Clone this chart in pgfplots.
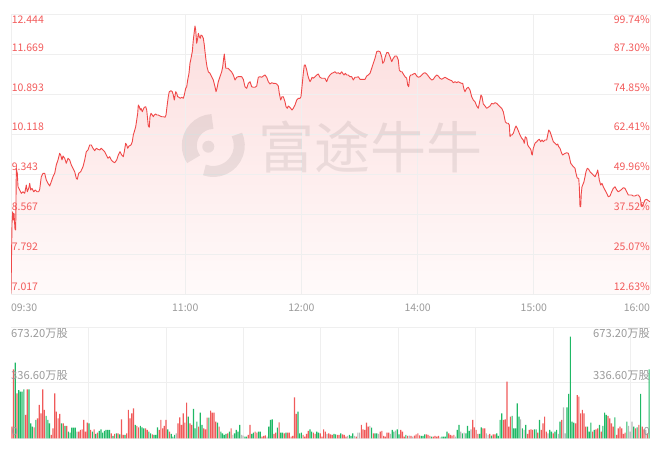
\documentclass[border=0pt]{standalone}
\usepackage{pgfplots}
\pgfplotsset{compat=1.18}
\usepackage{pgfplotstable}
\usepackage{fontspec}
\setmainfont{Noto Sans CJK SC}
\newfontfamily\cjk{Noto Sans CJK SC}
\definecolor{pline}{HTML}{F04848}
\definecolor{plab}{HTML}{F25A5A}
\definecolor{gridc}{HTML}{EFEFEF}
\definecolor{vred}{HTML}{F05A5A}
\definecolor{vgreen}{HTML}{1FB865}
\definecolor{vgray}{HTML}{B8B8B8}
\definecolor{tlab}{HTML}{9A9A9A}
\definecolor{fillTop}{RGB}{252,222,222}
\definecolor{fillBot}{RGB}{255,250,250}

\pgfplotstableread{
m p
0 7.03
0.52 8.395
0.88 8.620
1.19 8.459
1.55 8.589
2.07 8.278
2.43 8.265
2.74 9.463
3.25 9.365
3.62 9.105
4.49 9.041
5.32 8.977
6.20 9.008
7.08 8.977
7.90 9.138
8.42 9.008
9.14 9.074
9.66 9.171
10.17 9.041
10.85 9.074
11.72 9.008
12.55 9.041
13.43 9.008
14.31 9.008
14.82 9.055
15.65 9.299
16.53 9.365
17.40 9.365
18.23 9.235
19.11 9.171
19.99 9.119
20.81 9.203
21.69 9.299
22.57 9.365
23.39 9.527
24.27 9.624
25.15 9.754
25.67 9.721
26.34 9.624
26.85 9.702
27.73 9.657
28.56 9.560
29.44 9.657
30.31 9.624
31.14 9.527
32.02 9.463
32.90 9.397
33.72 9.269
34.24 9.249
34.96 9.365
36.00 9.397
37.18 9.494
38.06 9.624
38.89 9.785
39.77 9.818
40.64 9.915
41.47 9.915
42.35 9.851
43.23 9.804
44.05 9.851
44.93 9.831
45.81 9.818
46.63 9.851
47.51 9.818
48.39 9.785
49.22 9.721
50.09 9.657
50.97 9.688
51.80 9.624
52.68 9.591
53.55 9.571
54.59 9.624
55.41 9.721
56.29 9.785
57.17 9.721
57.99 9.688
58.51 9.785
59.23 9.948
59.75 9.915
60.27 9.851
60.94 9.895
61.97 9.915
62.64 9.979
63.16 10.109
63.68 10.173
64.40 10.270
64.92 10.400
65.43 10.530
65.74 10.691
66.26 10.658
66.77 10.594
67.14 10.627
67.81 10.561
68.32 10.608
68.84 10.647
69.56 10.658
70.08 10.594
70.60 10.400
70.91 10.284
71.42 10.259
71.78 10.464
72.30 10.530
72.97 10.497
73.49 10.464
74.00 10.497
74.73 10.517
75.24 10.497
76.07 10.497
76.95 10.478
77.83 10.464
78.65 10.464
79.53 10.453
80.05 10.497
80.56 10.658
81.23 10.852
81.75 10.949
82.63 10.969
83.30 10.949
83.82 10.885
84.33 10.788
85.06 10.949
85.57 10.918
86.09 10.852
86.76 10.841
87.43 10.821
88.15 10.841
88.98 10.821
89.50 10.885
90.22 11.015
90.74 11.046
91.25 11.176
91.92 11.306
92.44 11.501
92.96 11.598
93.63 11.726
94.15 11.953
94.66 12.114
95.02 12.225
95.38 12.147
95.90 11.889
96.42 11.986
96.73 12.083
97.24 12.017
97.76 11.986
98.12 12.050
98.79 12.030
99.31 11.986
99.83 11.856
100.19 11.726
100.70 11.565
101.22 11.434
101.89 11.337
102.77 11.306
103.65 11.241
104.48 11.176
105.35 11.046
105.87 10.949
106.38 11.015
107.06 11.144
107.93 11.241
108.81 11.337
109.33 11.434
109.84 11.598
110.15 11.681
110.93 11.404
112.12 11.404
113.00 11.371
113.88 11.337
114.80 11.274
115.68 11.176
116.56 11.229
117.38 11.241
118.26 11.241
119.14 11.241
119.97 11.190
120.84 11.046
121.72 11.015
122.55 11.112
123.43 11.144
124.30 11.046
125.13 11.035
126.01 11.035
126.89 11.060
127.71 11.229
128.59 11.241
129.47 11.229
130.29 11.254
131.17 11.274
132.05 11.229
132.88 11.144
133.76 11.099
134.63 11.124
135.46 11.112
136.34 11.112
137.22 11.099
138.04 11.060
138.56 10.918
139.28 10.788
139.95 10.852
140.62 10.852
141.50 10.755
142.02 10.658
142.69 10.627
143.21 10.672
143.72 10.658
144.45 10.627
145.12 10.594
145.79 10.627
146.67 10.691
147.55 10.788
148.37 10.821
149.25 10.821
149.76 10.852
150.28 11.046
150.95 11.306
151.47 11.468
151.98 11.468
152.71 11.371
153.23 11.274
153.74 11.210
154.41 11.144
154.93 11.176
155.45 11.229
156.12 11.210
157.00 11.241
157.87 11.274
158.70 11.293
159.58 11.229
160.46 11.210
161.28 11.210
162.16 11.210
163.04 11.144
163.86 11.229
164.74 11.274
165.62 11.306
166.45 11.318
167.32 11.337
168.20 11.306
169.03 11.318
169.91 11.293
170.78 11.337
171.30 11.306
171.97 11.274
172.64 11.306
173.37 11.274
174.19 11.274
175.07 11.241
175.95 11.241
176.77 11.176
177.65 11.229
178.53 11.229
179.36 11.241
180.23 11.190
181.11 11.190
181.94 11.190
182.82 11.190
183.69 11.254
184.52 11.274
185.40 11.306
186.28 11.404
187.10 11.501
187.98 11.598
188.86 11.726
189.69 11.739
190.56 11.726
191.44 11.629
191.96 11.501
192.63 11.532
193.30 11.629
194.02 11.707
194.85 11.707
195.73 11.629
196.61 11.532
197.43 11.598
198.31 11.642
199.19 11.642
200.01 11.565
200.53 11.371
201.25 11.337
201.92 11.337
202.59 11.293
203.47 11.241
204.35 11.210
204.87 11.079
205.38 11.046
205.90 11.241
206.42 11.274
207.09 11.274
207.76 11.293
208.64 11.306
209.52 11.254
210.34 11.229
211.22 11.241
212.10 11.274
212.93 11.306
213.80 11.318
214.68 11.293
215.51 11.254
216.38 11.210
217.26 11.176
218.09 11.190
218.97 11.241
219.84 11.274
220.67 11.254
221.55 11.210
222.43 11.190
223.25 11.210
224.13 11.229
225.01 11.210
225.84 11.190
226.71 11.176
227.59 11.163
228.42 11.124
229.30 11.144
230.17 11.124
231.00 11.144
231.88 11.124
232.76 11.112
233.27 11.112
233.94 10.996
234.46 10.949
235.34 11.015
236.16 11.035
237.04 10.982
237.92 10.852
238.75 10.788
239.62 10.755
240.50 10.672
241.33 10.627
242.21 10.788
242.72 10.885
243.24 10.852
243.91 10.711
244.79 10.672
245.67 10.627
246.49 10.647
247.37 10.672
248.25 10.724
249.07 10.711
249.95 10.736
250.83 10.724
251.66 10.691
252.53 10.658
253.41 10.627
254.24 10.561
254.76 10.464
255.27 10.367
255.99 10.336
256.82 10.336
257.34 10.303
257.70 10.076
258.22 10.109
258.73 10.109
259.41 10.142
260.28 10.239
260.80 10.284
261.47 10.239
262.19 10.173
262.86 10.109
263.74 10.045
264.57 10.012
265.08 9.948
265.60 10.076
266.32 10.045
266.84 9.915
267.36 9.882
268.03 9.851
268.54 9.818
268.90 9.740
269.22 9.721
269.73 9.851
270.61 9.948
271.49 9.979
272.32 10.012
272.83 10.025
273.56 9.979
274.23 10.012
274.90 9.979
275.77 10.012
276.65 10.012
277.17 10.109
277.69 10.206
278.36 10.173
279.23 10.076
280.06 9.979
280.94 9.948
281.82 9.915
282.33 9.934
282.85 9.882
283.52 9.851
284.40 9.754
284.91 9.721
285.59 9.740
286.26 9.754
286.98 9.765
287.81 9.754
288.33 9.688
289.05 9.560
289.72 9.527
290.39 9.494
291.27 9.463
291.78 9.365
292.46 9.269
293.18 9.269
293.49 9.105
293.85 8.717
294.21 8.717
294.52 8.977
294.88 9.105
295.24 9.138
295.91 9.203
296.43 9.299
296.95 9.397
297.62 9.463
298.34 9.443
299.01 9.397
299.89 9.365
300.72 9.333
301.60 9.299
302.47 9.365
302.99 9.430
303.30 9.365
303.82 9.235
304.54 9.138
305.21 9.171
305.88 9.105
306.76 9.041
307.64 8.977
308.47 8.911
309.34 8.925
310.22 9.008
311.05 9.074
311.93 9.105
312.80 9.041
313.63 9.008
314.51 9.028
315.39 9.055
316.21 9.086
317.09 9.074
317.97 9.008
318.80 8.944
319.67 8.944
320.55 8.944
321.38 8.925
322.26 8.925
323.13 8.944
323.96 8.944
324.84 8.900
325.35 8.795
325.87 8.717
326.54 8.770
327.42 8.847
328.30 8.861
329.12 8.834
330 8.814
}\pricedata

\pgfplotstableread{
i v
0 70.7
1 418
3 272.7
8 141.4
9 297
13 66.7
15 121.2
16 202
17 151.5
18 297
19 171.7
23 20.2
24 60.6
25 272.7
26 161.6
27 121.2
28 147.5
30 90.9
32 74.7
39 40.4
40 50.5
41 54.5
42 111.1
43 40.4
44 94.9
46 50.5
48 54.5
50 34.3
58 30.3
60 26.3
62 30.3
64 115.1
65 20.2
67 30.3
68 171.7
69 121.2
70 151.5
71 181.8
73 74.7
74 66.7
78 60.6
79 50.5
82 24.2
86 50.5
87 111.1
88 60.6
89 74.7
90 111.1
92 40.4
97 90.9
98 127.3
99 80.8
100 151.5
101 94.9
102 216.1
104 90.9
105 80.8
109 70.7
112 60.6
113 54.5
114 125.2
116 167.7
117 155.5
118 155.5
119 101
121 70.7
126 30.3
128 60.6
138 20.2
139 80.8
142 40.4
143 34.3
146 10.1
147 14.1
148 18.2
153 26.3
154 34.3
156 97
159 30.3
161 34.3
162 34.3
163 10.1
164 14.1
165 248.5
166 147.5
170 20.2
171 10.1
172 26.3
173 44.4
176 34.3
177 26.3
180 30.3
181 10.1
182 54.5
183 40.4
185 30.3
186 24.2
187 20.2
190 20.2
191 20.2
193 24.2
194 20.2
195 10.1
201 10.1
204 80.8
205 54.5
206 50.5
207 94.9
208 70.7
211 30.3
215 40.4
216 44.4
217 14.1
218 10.1
219 34.3
220 34.3
227 50.5
228 40.4
229 10.1
231 14.1
233 14.1
235 16.2
236 24.2
237 30.3
238 18.2
242 24.2
243 20.2
244 14.1
246 10.1
247 14.1
248 10.1
249 14.1
255 30.3
256 20.2
257 16.2
258 20.2
269 111.1
270 66.7
271 50.5
272 26.3
275 60.6
276 60.6
279 26.3
281 24.2
282 24.2
287 111.1
288 115.1
289 343.4
290 70.7
291 131.3
301 26.3
302 50.5
303 54.5
304 50.5
307 34.3
309 50.5
310 90.9
311 131.3
312 40.4
316 30.3
321 111.1
329 90.9
330 262.6
331 252.5
332 151.5
333 171.7
334 151.5
335 70.7
339 40.4
341 54.5
342 60.6
344 40.4
348 135.3
349 121.2
350 90.9
351 70.7
353 20.2
354 60.6
355 70.7
356 60.6
357 26.3
358 34.3
364 60.6
366 80.8
368 70.7
369 54.5
371 30.3
}\volred

\pgfplotstableread{
i v
2 458.5
4 292.9
5 282.8
6 282.8
7 297
10 297
11 90.9
12 70.7
14 111.1
20 135.3
21 111.1
22 90.9
29 90.9
31 74.7
33 40.4
34 34.3
35 64.6
36 64.6
37 64.6
45 90.9
47 40.4
49 26.3
51 44.4
52 54.5
53 34.3
54 44.4
55 50.5
56 50.5
57 50.5
59 14.1
61 30.3
63 24.2
66 20.2
72 80.8
75 74.7
76 66.7
77 60.6
80 40.4
81 30.3
83 20.2
84 20.2
85 66.7
91 54.5
93 26.3
94 10.1
95 20.2
103 131.3
106 177.8
107 60.6
108 101
110 155.5
111 80.8
115 125.2
120 94.9
122 40.4
123 30.3
124 20.2
125 26.3
127 40.4
130 30.3
131 50.5
132 40.4
133 80.8
136 10.1
137 10.1
140 26.3
141 34.3
144 40.4
145 40.4
150 70.7
151 111.1
152 115.1
155 64.6
157 34.3
158 34.3
160 34.3
167 161.6
168 30.3
169 34.3
174 54.5
175 40.4
178 40.4
179 34.3
188 26.3
189 24.2
192 30.3
197 20.2
198 14.1
199 30.3
210 64.6
212 30.3
213 30.3
222 50.5
223 40.4
225 54.5
226 24.2
230 20.2
239 14.1
240 14.1
241 24.2
245 10.1
251 10.1
252 10.1
253 10.1
254 40.4
260 50.5
261 80.8
263 30.3
265 30.3
266 74.7
267 44.4
273 26.3
274 66.7
280 16.2
283 30.3
284 14.1
285 111.1
286 151.5
292 135.3
293 60.6
294 60.6
295 212.1
296 131.3
298 60.6
300 80.8
305 54.5
306 54.5
308 111.1
314 50.5
315 40.4
317 40.4
318 50.5
320 101
324 187.9
325 268.7
326 616.1
327 101
328 94.9
336 70.7
337 40.4
338 94.9
340 50.5
343 80.8
345 74.7
346 155.5
347 141.4
352 127.3
359 101
363 70.7
365 66.7
367 268.7
372 418.1
}\volgreen

\pgfplotstableread{
i v
38 40.4
96 30.3
129 20.2
134 20.2
135 16.2
149 10.1
184 26.3
196 14.1
200 14.1
202 34.3
203 34.3
209 74.7
214 26.3
221 26.3
224 46.5
232 16.2
234 10.1
250 6.1
259 10.1
262 40.4
264 34.3
268 54.5
277 30.3
278 20.2
297 115.1
299 50.5
313 30.3
319 26.3
322 187.9
323 30.3
360 74.7
361 40.4
362 101
370 50.5
}\volgray

\pgfplotsset{pricebox/.style={
  at={(11bp,157.7bp)}, anchor=south west,
  scale only axis, width=639bp, height=279.6bp,
  xmin=0, xmax=330, ymin=7.017, ymax=12.444,
  axis line style={draw=none}, tick style={draw=none},
  major tick length=0pt}}

\begin{document}
\begin{tikzpicture}
\useasboundingbox (0,0) rectangle (659bp,452bp);
% ---------- price panel: area fill (underneath the grid) ----------
\begin{axis}[pricebox, xtick=\empty, ytick=\empty]
\addplot[draw=none, top color=fillTop, bottom color=fillBot] table[x=m,y=p]{\pricedata} \closedcycle;
\end{axis}
% ---------- price panel: grid, line and time labels ----------
\begin{axis}[pricebox,
  grid=major, major grid style={gridc, line width=0.7bp},
  xtick={0,90,150,210,270,330},
  xticklabels={{\rlap{09:30}},11:00,12:00,14:00,15:00,{\llap{16:00}}},
  xticklabel style={font=\fontsize{10.5bp}{12bp}\selectfont, text=tlab, inner sep=0pt, anchor=north, yshift=-9bp},
  ytick={7.017,7.792,8.567,9.343,10.118,10.893,11.669,12.444},
  yticklabels={},
]
\addplot[pline, line width=0.9bp, line join=round] table[x=m,y=p]{\pricedata};
\end{axis}
% ---------- watermark ----------
\begin{scope}[opacity=0.075]
  \draw[line width=15bp, black] (213.3bp,306.5bp) ++(92:24bp) arc (92:215:24bp);
  \draw[line width=11bp, black] (213.3bp,306.5bp) ++(-110:26bp) arc (-110:25:26bp);
  \fill[black] (208.3bp,305.3bp) circle (6bp);
\end{scope}
\node[anchor=west, inner sep=0pt, text=black, opacity=0.075] at (258bp,305.5bp) {\cjk\fontsize{56bp}{56bp}\selectfont 富途牛牛};
% left/right price labels (price panel spans y = 157.7bp .. 437.3bp, 39.94bp per step)
\begin{scope}[font=\fontsize{10.5bp}{12bp}\selectfont, text=plab, inner sep=0pt]
  \node[anchor=north west] at (11.6bp,436.1bp) {12.444};
  \node[anchor=south west] at (11.6bp,400.6bp) {11.669};
  \node[anchor=south west] at (11.6bp,360.6bp) {10.893};
  \node[anchor=south west] at (11.6bp,320.7bp) {10.118};
  \node[anchor=south west] at (11.6bp,280.7bp) {9.343};
  \node[anchor=south west] at (11.6bp,240.8bp) {8.567};
  \node[anchor=south west] at (11.6bp,200.8bp) {7.792};
  \node[anchor=south west] at (11.6bp,160.9bp) {7.017};
  \node[anchor=north east] at (650bp,436.1bp) {99.74\%};
  \node[anchor=south east] at (650bp,400.6bp) {87.30\%};
  \node[anchor=south east] at (650bp,360.6bp) {74.85\%};
  \node[anchor=south east] at (650bp,320.7bp) {62.41\%};
  \node[anchor=south east] at (650bp,280.7bp) {49.96\%};
  \node[anchor=south east] at (650bp,240.8bp) {37.52\%};
  \node[anchor=south east] at (650bp,200.8bp) {25.07\%};
  \node[anchor=south east] at (650bp,160.9bp) {12.63\%};
\end{scope}
% ---------- volume panel ----------
\begin{axis}[
  at={(11bp,13.7bp)}, anchor=south west,
  scale only axis, width=639bp, height=111bp,
  xmin=-0.5, xmax=372.5, ymin=0, ymax=673.2,
  axis line style={draw=none}, tick style={draw=none},
  major tick length=0pt,
  xtick={44.7,89.9,135.2,180.3,225.6,270.8,316.0,361.2}, xticklabels={},
  ytick={0,336.6,673.2}, yticklabels={},
  grid=major, major grid style={gridc, line width=0.7bp},
]
\addplot[ybar, bar width=0.68, bar shift=0pt, fill=vred, draw=none] table[x=i,y=v]{\volred};
\addplot[ybar, bar width=0.68, bar shift=0pt, fill=vgreen, draw=none] table[x=i,y=v]{\volgreen};
\addplot[ybar, bar width=0.68, bar shift=0pt, fill=vgray, draw=none] table[x=i,y=v]{\volgray};
\end{axis}
\begin{scope}[font=\fontsize{11.2bp}{13bp}\selectfont, text=tlab, inner sep=0pt]
  \node[anchor=north west] at (11bp,123.8bp) {673.20万股};
  \node[anchor=south west] at (11bp,71.0bp) {336.60万股};
  \node[anchor=south west] at (11.5bp,15.7bp) {0};
  \node[anchor=north east] at (650bp,123.8bp) {673.20万股};
  \node[anchor=south east] at (650bp,71.0bp) {336.60万股};
  \node[anchor=south east] at (650bp,15.7bp) {0};
\end{scope}
\end{tikzpicture}
\end{document}
